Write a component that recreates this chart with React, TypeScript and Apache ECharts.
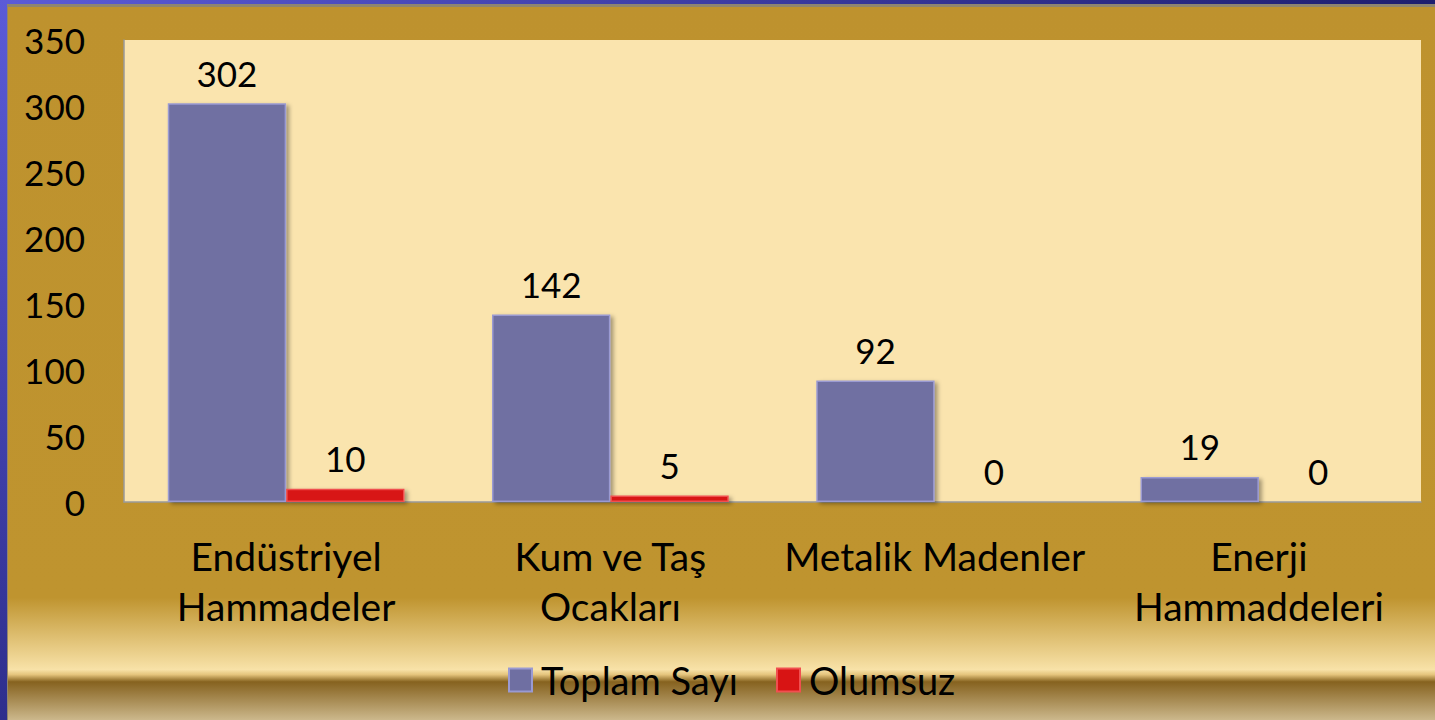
import React, { useEffect, useRef } from "react";
import * as echarts from "echarts";

const categories = ["Endüstriyel\nHammadeler", "Kum ve Taş\nOcakları", "Metalik Madenler", "Enerji\nHammaddeleri"];
const toplamSayi = [302, 142, 92, 19];
const olumsuz = [10, 5, 0, 0];
const seriesNames = ["Toplam Sayı", "Olumsuz"];
const yTicks = { min: 0, max: 350, interval: 50 };

const FONT = "Lato";

export default function App() {
  const ref = useRef<HTMLDivElement>(null);
  useEffect(() => {
    if (!ref.current) return;
    const chart = echarts.init(ref.current, null, { renderer: "svg" });
    const barShadow = {
      shadowColor: "rgba(0,0,0,0.35)",
      shadowBlur: 4,
      shadowOffsetX: 3,
      shadowOffsetY: 2,
    };
    chart.setOption({
      animation: false,
      backgroundColor: {
        type: "linear",
        x: 0,
        y: 0,
        x2: 0,
        y2: 1,
        colorStops: [
          { offset: 0, color: "#BE922E" },
          { offset: 0.83, color: "#BF942F" },
          { offset: 0.93, color: "#F8E2A8" },
          { offset: 0.937, color: "#E4C47C" },
          { offset: 0.947, color: "#86621F" },
          { offset: 1, color: "#CCB88C" },
        ],
      },
      graphic: [
        {
          type: "rect",
          shape: { x: 0, y: 0, width: 1435, height: 4 },
          style: {
            fill: {
              type: "linear", x: 0, y: 0, x2: 1, y2: 0,
              colorStops: [
                { offset: 0, color: "#5B5BD8" },
                { offset: 1, color: "#1E1E6E" },
              ],
            },
          },
        },
        { type: "rect", shape: { x: 0, y: 4, width: 1435, height: 3 }, style: { fill: "#8E8570" } },
        {
          type: "rect",
          shape: { x: 0, y: 0, width: 7, height: 720 },
          style: {
            fill: {
              type: "linear", x: 0, y: 0, x2: 0, y2: 1,
              colorStops: [
                { offset: 0, color: "#5B5BD8" },
                { offset: 1, color: "#2E2E8C" },
              ],
            },
          },
        },
        { type: "rect", shape: { x: 7, y: 4, width: 1, height: 716 }, style: { fill: "#8E8570" } },
      ],
      grid: {
        left: 124,
        right: 14,
        top: 40,
        bottom: 218,
        show: true,
        backgroundColor: "#FAE4AE",
        borderWidth: 0,
      },
      legend: {
        left: 503,
        top: 656,
        itemWidth: 23,
        itemHeight: 23,
        itemGap: 38,
        icon: "rect",
        textStyle: { fontFamily: FONT, fontSize: 38, color: "#000", padding: [0, 0, 0, 4] },
        data: seriesNames,
      },
      xAxis: {
        type: "category",
        data: categories,
        axisLine: { show: true, lineStyle: { color: "#9A9A9A", width: 1.5 } },
        axisTick: { show: false },
        axisLabel: {
          fontFamily: FONT,
          fontSize: 39,
          color: "#000",
          lineHeight: 50,
          margin: 29,
          interval: 0,
        },
        splitLine: { show: false },
      },
      yAxis: {
        type: "value",
        min: yTicks.min,
        max: yTicks.max,
        interval: yTicks.interval,
        axisLine: { show: true, lineStyle: { color: "#9A9A9A", width: 1.5 } },
        axisTick: { show: false },
        splitLine: { show: false },
        axisLabel: {
          fontFamily: FONT,
          fontSize: 35,
          color: "#000",
          margin: 39,
        },
      },
      series: [
        {
          name: seriesNames[0],
          type: "bar",
          data: toplamSayi,
          barGap: "0%",
          barCategoryGap: "27%",
          itemStyle: {
            color: "#6F6FA2",
            borderColor: "#9A9AD2",
            borderWidth: 1.5,
            ...barShadow,
          },
          label: {
            show: true,
            position: "top",
            distance: 13,
            fontFamily: FONT,
            fontSize: 35,
            color: "#000",
          },
        },
        {
          name: seriesNames[1],
          type: "bar",
          data: olumsuz,
          itemStyle: {
            color: "#D81414",
            borderColor: "#F05050",
            borderWidth: 1.5,
            ...barShadow,
          },
          label: {
            show: true,
            position: "top",
            distance: 13,
            fontFamily: FONT,
            fontSize: 35,
            color: "#000",
          },
        },
      ],
    });
    return () => chart.dispose();
  }, []);
  return (
    <div
      ref={ref}
      style={{ position: "absolute", left: 0, top: 0, width: 1435, height: 720 }}
    />
  );
}
